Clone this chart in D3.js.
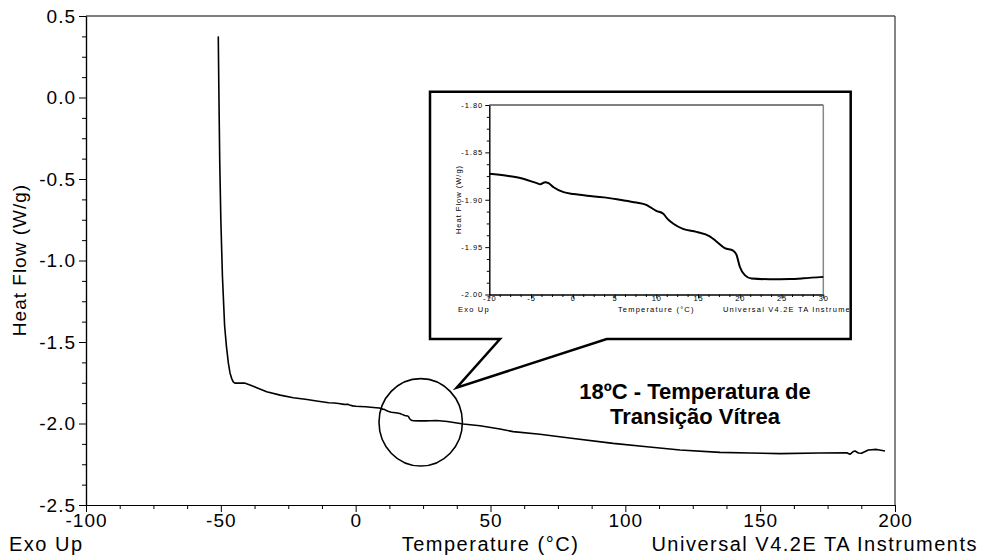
<!DOCTYPE html>
<html><head><meta charset="utf-8">
<script src="https://cdn.jsdelivr.net/npm/d3@7"></script>
<style>
html,body{margin:0;padding:0;background:#fff;}
svg{display:block;font-family:"Liberation Sans",Arial,sans-serif;}
</style></head>
<body>
<svg id="chart" width="983" height="556"></svg>
<script>
// ---- data (temperature °C, heat flow W/g) ----
const temperature = [-50.95,-50.7,-50.4,-50.0,-49.4,-48.6,-47.9,-47.2,-46.6,-46.0,-45.4,-44.8,-42.5,-41.2,-39.2,-36,-33,-28,-23.1,-18,-14.5,-10,-7.9,-6.3,-4.3,-3.9,-3.3,-2.9,-2.3,-1.1,0.1,1.7,3.7,5.6,7.6,8.8,10.0,10.8,11.4,12.0,13.2,14.8,16.4,17.2,18.2,19.2,19.6,20.0,20.6,21.4,23.6,26.0,27.6,30.0,34,39.9,46.1,53.5,58.4,68.3,80,95.5,108,120.3,135.1,146,157.4,172,182.1,183.3,184.5,185.2,186.4,187.6,190.1,193.2,196.3];
const heatFlow = [0.375,0.0,-0.4,-0.75,-1.1,-1.40,-1.53,-1.63,-1.69,-1.723,-1.745,-1.752,-1.752,-1.752,-1.764,-1.785,-1.805,-1.826,-1.842,-1.853,-1.862,-1.8725,-1.8746,-1.877,-1.8825,-1.8836,-1.8814,-1.8825,-1.8868,-1.892,-1.894,-1.8957,-1.8975,-1.900,-1.9029,-1.9054,-1.9118,-1.9146,-1.9207,-1.925,-1.9307,-1.9339,-1.9386,-1.944,-1.951,-1.9536,-1.958,-1.9707,-1.9796,-1.9832,-1.9839,-1.9836,-1.9829,-1.9814,-1.988,-2.003,-2.014,-2.034,-2.050,-2.066,-2.090,-2.122,-2.143,-2.163,-2.177,-2.181,-2.185,-2.181,-2.179,-2.189,-2.172,-2.169,-2.181,-2.183,-2.163,-2.159,-2.169];

const xTicks = [-100,-50,0,50,100,150,200];
const yTicks = [0.5,0.0,-0.5,-1.0,-1.5,-2.0,-2.5];
const insetXTicks = [-10,-5,0,5,10,15,20,25,30];
const insetYTicks = [-1.80,-1.85,-1.90,-1.95,-2.00];

const xLabel = "Temperature (°C)";
const yLabel = "Heat Flow (W/g)";
const leftNote = "Exo Up";
const rightNote = "Universal V4.2E TA Instruments";
const annotation = ["18ºC - Temperatura de", "Transição Vítrea"];

const data = temperature.map((t,i)=>({t, h: heatFlow[i]}));

const svg = d3.select("#chart");
const fmt = f => d => d3.format(f)(d).replace("\u2212","-");

// ---- main scales ----
const x = d3.scaleLinear().domain([-100,200]).range([86,895]);
const y = d3.scaleLinear().domain([-2.5,0.5]).range([505,16]);

function minors(ticks, n){
  const out=[];
  for(let i=0;i<ticks.length-1;i++){
    const a=ticks[i], b=ticks[i+1];
    for(let k=1;k<=n;k++) out.push(a+(b-a)*k/(n+1));
  }
  return out;
}

const axisStyle = g => { g.select(".domain").attr("stroke","#000").attr("stroke-width",1.2); g.selectAll(".tick line").attr("stroke","#000"); };

// minor ticks
svg.append("g").attr("transform","translate(0,505)")
  .call(d3.axisBottom(x).tickValues(minors(xTicks,3)).tickFormat("").tickSize(4).tickSizeOuter(0))
  .call(axisStyle);
svg.append("g").attr("transform","translate(86,0)")
  .call(d3.axisLeft(y).tickValues(minors(yTicks,3)).tickFormat("").tickSize(4).tickSizeOuter(0))
  .call(axisStyle);

// major ticks
const gx = svg.append("g").attr("transform","translate(0,505)")
  .call(d3.axisBottom(x).tickValues(xTicks).tickFormat(fmt("d")).tickSize(7).tickSizeOuter(0).tickPadding(2))
  .call(axisStyle);
gx.selectAll("text").attr("font-size",19).attr("fill","#000").attr("font-family","Liberation Sans, Arial, sans-serif").attr("letter-spacing","1px");
const gy = svg.append("g").attr("transform","translate(86,0)")
  .call(d3.axisLeft(y).tickValues(yTicks).tickFormat(fmt(".1f")).tickSize(7).tickSizeOuter(0).tickPadding(5))
  .call(axisStyle);
gy.selectAll("text").attr("font-size",19).attr("fill","#000").attr("font-family","Liberation Sans, Arial, sans-serif").attr("letter-spacing","1px").attr("dx","2");

// frame top/right
svg.append("line").attr("x1",x(-100)).attr("x2",x(200)).attr("y1",y(0.5)).attr("y2",y(0.5)).attr("stroke","#000").attr("stroke-width",1.2);
svg.append("line").attr("x1",x(200)).attr("x2",x(200)).attr("y1",y(0.5)).attr("y2",y(-2.5)).attr("stroke","#333").attr("stroke-width",1.2);

// main curve
const line = d3.line().x(d=>x(d.t)).y(d=>y(d.h));
svg.append("path").datum(data).attr("d",line).attr("fill","none").attr("stroke","#000").attr("stroke-width",1.6).attr("stroke-linejoin","round");

// axis titles
svg.append("text").attr("transform","translate(26,260) rotate(-90)").attr("text-anchor","middle")
  .attr("font-size",19).attr("letter-spacing","1px").text(yLabel);
svg.append("text").attr("x",x(50)).attr("y",551).attr("text-anchor","middle").attr("font-size",20).attr("letter-spacing","1.5px").text(xLabel);
svg.append("text").attr("x",9).attr("y",551).attr("font-size",20).attr("letter-spacing","1.5px").text(leftNote);
svg.append("text").attr("x",978).attr("y",551).attr("text-anchor","end").attr("font-size",20).attr("letter-spacing","1.5px").text(rightNote);

// circle highlight
svg.append("ellipse").attr("cx",420.7).attr("cy",422.3).attr("rx",41.7).attr("ry",43.7)
  .attr("fill","none").attr("stroke","#000").attr("stroke-width",1.6);

// callout box
const bx0=430, by0=91.7, bx1=850.7, by1=339;
svg.append("path")
  .attr("d",`M${bx0},${by0}H${bx1}V${by1}H606.7L456.7,387.7L500,${by1}H${bx0}Z`)
  .attr("fill","#fff").attr("stroke","#000").attr("stroke-width",2.5).attr("stroke-linejoin","miter");

// annotation
const ann = svg.append("text").attr("text-anchor","middle").attr("font-size",22).attr("font-weight","bold");
ann.append("tspan").attr("x",695).attr("y",399).text(annotation[0]);
ann.append("tspan").attr("x",695).attr("y",424).text(annotation[1]);

// ---- inset ----
svg.append("clipPath").attr("id","boxclip").append("rect").attr("x",bx0+1.3).attr("y",by0+1.3).attr("width",bx1-bx0-2.6).attr("height",by1-by0-2.6);
const inset = svg.append("g").attr("clip-path","url(#boxclip)");
const xi = d3.scaleLinear().domain([-10,30]).range([489.3,823.3]);
const yi = d3.scaleLinear().domain([-2.0,-1.8]).range([294.5,105]);

const insetAxisStyle = g => { g.select(".domain").attr("stroke","#000").attr("stroke-width",1); g.selectAll(".tick line").attr("stroke","#000"); };

inset.append("g").attr("transform","translate(0,294.5)")
  .call(d3.axisBottom(xi).tickValues(minors(insetXTicks,3)).tickFormat("").tickSize(2.5).tickSizeOuter(0)).call(insetAxisStyle);
inset.append("g").attr("transform","translate(489.3,0)")
  .call(d3.axisLeft(yi).tickValues(minors(insetYTicks,3)).tickFormat("").tickSize(2.5).tickSizeOuter(0)).call(insetAxisStyle);
const gxi = inset.append("g").attr("transform","translate(0,294.5)")
  .call(d3.axisBottom(xi).tickValues(insetXTicks).tickFormat(fmt("d")).tickSize(4).tickSizeOuter(0).tickPadding(-2.5)).call(insetAxisStyle);
gxi.selectAll("text").attr("font-size",7.5).attr("fill","#000").attr("letter-spacing","1px").attr("font-family","Liberation Sans, Arial, sans-serif");
const gyi = inset.append("g").attr("transform","translate(489.3,0)")
  .call(d3.axisLeft(yi).tickValues(insetYTicks).tickFormat(fmt(".2f")).tickSize(4).tickSizeOuter(0).tickPadding(2)).call(insetAxisStyle);
gyi.selectAll("text").attr("font-size",7.5).attr("fill","#000").attr("letter-spacing","1px").attr("font-family","Liberation Sans, Arial, sans-serif");

inset.append("line").attr("x1",xi(-10)).attr("x2",xi(30)).attr("y1",yi(-1.8)).attr("y2",yi(-1.8)).attr("stroke","#000").attr("stroke-width",1);
inset.append("line").attr("x1",xi(30)).attr("x2",xi(30)).attr("y1",yi(-1.8)).attr("y2",yi(-2.0)).attr("stroke","#888").attr("stroke-width",1.5);

const insetData = data.filter(d=>d.t>=-10 && d.t<=30);
const lineI = d3.line().x(d=>xi(d.t)).y(d=>yi(d.h)).curve(d3.curveMonotoneX);
inset.append("path").datum(insetData).attr("d",lineI).attr("fill","none").attr("stroke","#000").attr("stroke-width",2);

inset.append("text").attr("transform","translate(460.5,199.5) rotate(-90)").attr("text-anchor","middle").attr("font-size",7.5).attr("letter-spacing","1px").text(yLabel);
inset.append("text").attr("x",458).attr("y",311.5).attr("font-size",7.5).attr("letter-spacing","1.2px").text(leftNote);
inset.append("text").attr("x",xi(10)).attr("y",311.5).attr("text-anchor","middle").attr("font-size",7.5).attr("letter-spacing","1.2px").text(xLabel);
inset.append("text").attr("x",723).attr("y",311.5).attr("font-size",7.5).attr("letter-spacing","1.2px").text(rightNote);
</script>
</body></html>
